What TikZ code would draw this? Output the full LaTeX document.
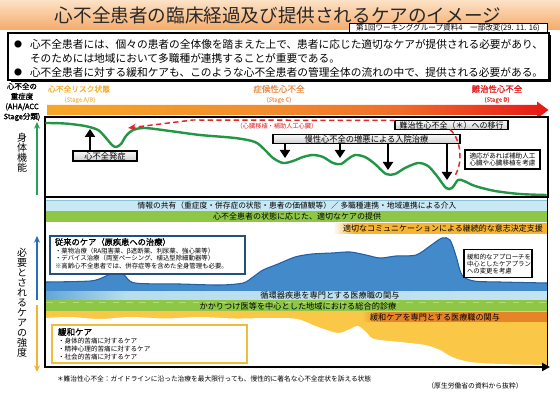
\documentclass[tikz,border=0pt]{standalone}
\usepackage{fontspec}
\setmainfont{Noto Sans CJK JP}
\newfontfamily\jpbold[FakeBold=1.2]{Noto Sans CJK JP}
\usetikzlibrary{arrows.meta}
\newcommand\fz[2]{\fontsize{#1}{#2}\selectfont}
\definecolor{titletop}{RGB}{252,226,198}
\definecolor{titlebot}{RGB}{245,170,105}
\definecolor{titletext}{RGB}{40,40,40}
\definecolor{stageA}{RGB}{242,176,48}
\definecolor{stageAl}{RGB}{245,198,118}
\definecolor{stageC}{RGB}{236,145,80}
\definecolor{stageCl}{RGB}{238,165,110}
\definecolor{stageD}{RGB}{226,28,28}
\definecolor{stageDl}{RGB}{228,70,60}
\definecolor{curvegreen}{RGB}{35,150,70}
\definecolor{axisgreen}{RGB}{40,160,90}
\definecolor{redline}{RGB}{222,40,40}
\definecolor{bandblue}{RGB}{200,232,243}
\definecolor{bandblueedge}{RGB}{140,195,220}
\definecolor{bandgreen}{RGB}{142,198,70}
\definecolor{lightgreen}{RGB}{178,220,120}
\definecolor{careblue}{RGB}{66,138,202}
\definecolor{careblueedge}{RGB}{35,95,165}
\definecolor{boxblue}{RGB}{35,80,130}
\definecolor{palyellow}{RGB}{250,200,70}
\definecolor{palbox}{RGB}{236,190,60}
\definecolor{arrowblue}{RGB}{40,110,190}
\definecolor{arrowyellow}{RGB}{240,180,50}
\pgfdeclarehorizontalshading{stagebar}{100bp}{rgb(0bp)=(0.965,0.655,0.157); rgb(25bp)=(0.965,0.655,0.157); rgb(47bp)=(0.949,0.549,0.176); rgb(60bp)=(0.941,0.431,0.157); rgb(69bp)=(0.92,0.22,0.12); rgb(75bp)=(0.91,0.086,0.086); rgb(100bp)=(0.91,0.086,0.086)}
\pgfdeclarehorizontalshading{orangefade}{100bp}{rgb(0bp)=(1,1,1); rgb(25bp)=(1,1,1); rgb(30bp)=(0.965,0.706,0.196); rgb(75bp)=(0.965,0.706,0.196); rgb(100bp)=(0.965,0.706,0.196)}
\pgfdeclarehorizontalshading{palfade}{100bp}{rgb(0bp)=(0.98,0.784,0.275); rgb(25bp)=(0.98,0.784,0.275); rgb(30bp)=(0.91,0.518,0.157); rgb(75bp)=(0.91,0.518,0.157); rgb(100bp)=(0.91,0.518,0.157)}
\pgfdeclarehorizontalshading{bluefade}{100bp}{rgb(0bp)=(0.39,0.65,0.85); rgb(25bp)=(0.39,0.65,0.85); rgb(33bp)=(0.72,0.87,0.93); rgb(75bp)=(0.76,0.89,0.95); rgb(100bp)=(0.76,0.89,0.95)}
\tikzset{
  graybox/.style={draw=black, line width=0.8pt, top color=gray!5, bottom color=gray!38},
  bigarrow/.style={draw=black, line width=2.2pt, -{Triangle[width=7.5pt,length=6pt]}},
  reddash/.style={draw=redline, line width=1.1pt, dash pattern=on 4pt off 2.5pt},
  whitebox/.style={draw=black, line width=0.8pt, fill=white},
  frameline/.style={draw=black, line width=1.3pt},
}
\begin{document}
\begin{tikzpicture}[x=0.75pt,y=-0.75pt, every node/.style={inner sep=0pt, outer sep=0pt}]
\useasboundingbox (0,0) rectangle (560,417);
\fill[white] (0,0) rectangle (560,417);

% ---------- title ----------
\shade[top color=titletop, bottom color=titlebot] (0,0) rectangle (560,30);
\node[text=titletext, font=\fz{13.95pt}{15pt}] (title) at (278,15) {心不全患者の臨床経過及び提供されるケアのイメージ};
\node[draw=black, line width=0.6pt, fill=white, minimum width=148.5pt, minimum height=7pt, font=\fz{5.7pt}{6pt}] (ref) at (448,28.5) {第1回ワーキンググループ資料4　一部改変(29. 11. 16)};

% ---------- bullet box ----------
\fill[black] (10.5,35.5) rectangle (551,82.5);
\node[draw=black, line width=1pt, fill=white, minimum width=405.75pt, minimum height=35.25pt] (bulletbox) at (278.5,56.5) {};
\node[font=\fz{6pt}{6pt}] (bul1) at (18,44.5) {●};
\node[anchor=west, font=\fz{8.03pt}{9pt}] (line1) at (30,44.5) {心不全患者には、個々の患者の全体像を踏まえた上で、患者に応じた適切なケアが提供される必要があり、};
\node[anchor=west, font=\fz{8.03pt}{9pt}] (line2) at (30,58) {そのためには地域において多職種が連携することが重要である。};
\node[font=\fz{6pt}{6pt}] (bul2) at (18,72) {●};
\node[anchor=west, font=\fz{8.03pt}{9pt}] (line3) at (30,72) {心不全患者に対する緩和ケアも、このような心不全患者の管理全体の流れの中で、提供される必要がある。};

% ---------- stage labels ----------
\node[align=center, font=\jpbold\fz{5.6pt}{7.5pt}] (sev) at (22,102) {心不全の\\重症度\\(AHA/ACC\\Stage分類)};
\node[text=stageA, font=\jpbold\fz{5.8pt}{6pt}] (stA) at (79,89) {心不全リスク状態};
\node[text=stageAl, font=\jpbold\fz{4.5pt}{5pt}] (stAs) at (80,100) {(Stage A/B)};
\node[text=stageC, font=\jpbold\fz{6.4pt}{7pt}] (stC) at (279,89) {症候性心不全};
\node[text=stageCl, font=\jpbold\fz{4.5pt}{5pt}] (stCs) at (279,100) {(Stage C)};
\node[text=stageD, font=\jpbold\fz{6.3pt}{7pt}] (stD) at (497,89) {難治性心不全};
\node[text=stageDl, font=\jpbold\fz{4.5pt}{5pt}] (stDs) at (497,100) {(Stage D)};
\shade[shading=stagebar] (47,105) -- (537,105) -- (537,101.5) -- (548.5,110) -- (537,118.5) -- (537,115) -- (47,115) -- cycle;

% ---------- physical function section ----------
\node[draw=black, line width=1.2pt, fill=white, minimum width=377.25pt, minimum height=60pt] (phys) at (296.5,157) {};
\node[align=center, font=\fz{7.5pt}{7.5pt}] (physlabel) at (22,153) {身\\体\\機\\能};
\coordinate (g1) at (37,195);
\coordinate (g2) at (37,122);
\draw[axisgreen, line width=0.9pt, -{Stealth[length=5pt,width=4.5pt]}] (g1) -- (g2);

\draw[curvegreen, line width=1.8pt, line cap=round] plot[smooth, tension=0.5] coordinates {(46,123) (65,123.5) (85,126) (98,130) (106,138) (112,145) (116,147) (121,144) (126,136) (133,130) (145,128) (170,131) (200,135) (235,138) (255,142) (265,150) (273,158) (283,163) (293,161) (303,157) (313,155) (323,157) (333,163) (341,164) (348,159) (355,155) (365,157) (375,164) (386,174) (395,174) (405,168) (418,163) (428,166) (437,176) (446,188) (452,188) (458,180) (464,181) (475,186) (495,191) (520,194) (546,195)};

\node[graybox, minimum width=140.25pt, minimum height=6.75pt, font=\fz{6.2pt}{7pt}] (chronic) at (366.5,139.25) {慢性心不全の増悪による入院治療};
\node[graybox, minimum width=84.75pt, minimum height=6.75pt, font=\fz{6pt}{7pt}] (nanchi) at (451.5,125) {難治性心不全（＊）への移行};
\node[graybox, minimum width=48pt, minimum height=7.5pt, font=\fz{6.2pt}{7pt}] (onset) at (105,156) {心不全発症};
\node[whitebox, minimum width=56.25pt, minimum height=14.25pt, align=left, font=\fz{4.95pt}{5.6pt}] (vad) at (502.5,159.5) {適応があれば補助人工\\心臓や心臓移植を考慮};

\coordinate (tipO) at (90,129);
\coordinate (tipA) at (285,158);
\coordinate (tipB) at (340,158);
\coordinate (tipC) at (388,170);
\coordinate (tipD) at (447,180);
\draw[bigarrow] (onset.north -| tipO) -- (tipO);
\draw[bigarrow] (chronic.south -| tipA) -- (tipA);
\draw[bigarrow] (chronic.south -| tipB) -- (tipB);
\draw[bigarrow] (chronic.south -| tipC) -- (tipC);
\draw[bigarrow] (chronic.south -| tipD) -- (tipD);

\coordinate (redbend) at (193,120);
\coordinate (redtip) at (128,128);
\draw[reddash, -{Stealth[length=6pt,width=5pt]}] (nanchi.north west) -- (redbend) -- (redtip);
\node[text=stageD, font=\fz{4.65pt}{5pt}] (transplant) at (277,126) {（心臓移植・補助人工心臓）};
\coordinate (rc1) at (450,0);
\coordinate (rc2) at (454,177);
\draw[reddash] (nanchi.south -| rc1) .. controls (462,140) and (463,165) .. (rc2);

% ---------- care section ----------
\fill[bandblue] (46,200) rectangle (547,211);
\draw[bandblueedge, line width=0.4pt] (46,200) -- (547,200) (46,211) -- (547,211);
\node[font=\fz{5.8pt}{6pt}] (info) at (297,205.5) {情報の共有（重症度・併存症の状態・患者の価値観等）／ 多職種連携・地域連携による介入};
\fill[bandgreen] (46,211) rectangle (547,222);
\node[font=\fz{6pt}{6pt}] (appro) at (297,216.5) {心不全患者の状態に応じた、適切なケアの提供};
\shade[shading=orangefade] (333,223) rectangle (547,233);
\node[font=\fz{6pt}{6pt}] (comm) at (443,228) {適切なコミュニケーションによる継続的な意志決定支援};

\fill[careblue] (46,291) -- plot[smooth, tension=0.5] coordinates {(46,282) (90,281) (104,277) (114,272) (124,275) (135,283) (180,284) (220,285) (243,283) (253,277) (263,270) (278,264) (295,257) (312,254) (332,253) (350,252) (366,255) (380,258) (396,256) (416,255) (430,246) (442,238) (450,240) (456,256) (462,275) (474,281) (500,282) (547,283)} -- (547,291) -- cycle;
\draw[careblueedge, line width=0.8pt] plot[smooth, tension=0.5] coordinates {(46,282) (90,281) (104,277) (114,272) (124,275) (135,283) (180,284) (220,285) (243,283) (253,277) (263,270) (278,264) (295,257) (312,254) (332,253) (350,252) (366,255) (380,258) (396,256) (416,255) (430,246) (442,238) (450,240) (456,256) (462,275) (474,281) (500,282) (547,283)};

\shade[shading=bluefade] (46,291) rectangle (547,300);
\node[font=\fz{6.15pt}{6.5pt}] (cardio) at (330,295.5) {循環器疾患を専門とする医療職の関与};
\fill[palyellow] (46,311) rectangle (547,366);
\fill[white] plot[smooth, tension=0.5] coordinates {(46,318) (70,317) (100,319) (130,317) (165,318.5) (200,317) (235,318.5) (270,318) (297,319) (318,327) (338,333) (350,329) (358,326) (366,332) (374,339) (400,342) (425,345) (440,350) (452,357) (470,362) (500,364) (547,365)} -- (547,366) -- (46,366) -- cycle;
\fill[bandgreen] (46,300) rectangle (547,311);
\draw[lightgreen, line width=1.2pt, dash pattern=on 5pt off 5pt] (46,302.5) -- (547,302.5);
\node[font=\fz{6.15pt}{6.5pt}] (gp) at (298,306) {かかりつけ医等を中心とした地域における総合的診療};
\shade[shading=palfade] (362,312) rectangle (547,321.5);
\node[font=\fz{6.1pt}{6.5pt}] (palpro) at (435,317) {緩和ケアを専門とする医療職の関与};

\node[draw=boxblue, line width=1.1pt, fill=white, minimum width=146.25pt, minimum height=28.5pt] (conv) at (147.5,255) {};
\node[anchor=west, font=\jpbold\fz{6.2pt}{7pt}] (conv1) at (55,242) {従来のケア（原疾患への治療）};
\node[anchor=west, font=\fz{4.8pt}{5pt}] (conv2) at (55,251) {・薬物治療（RA阻害薬、β遮断薬、利尿薬、強心薬等）};
\node[anchor=west, font=\fz{4.8pt}{5pt}] (conv3) at (55,258.5) {・デバイス治療（両室ペーシング、植込型除細動器等）};
\node[anchor=west, font=\fz{4.8pt}{5pt}] (conv4) at (55,266.5) {※高齢心不全患者では、併存症等を含めた全身管理も必要。};

\node[whitebox, minimum width=51pt, minimum height=21pt] (apprbox) at (498,263.5) {};
\node[align=left, font=\fz{4.8pt}{5.25pt}] (apprtext) at (499,264) {緩和的なアプローチを\\中心としたケアプラン\\への変更を考慮};

\node[draw=palbox, line width=1.1pt, fill=white, minimum width=146.25pt, minimum height=28.5pt] (pal) at (149.5,344) {};
\node[anchor=west, font=\jpbold\fz{6.4pt}{7pt}] (pal1) at (58,332) {緩和ケア};
\node[anchor=west, font=\fz{4.95pt}{5.5pt}] (pal2) at (58,341) {・身体的苦痛に対するケア};
\node[anchor=west, font=\fz{4.95pt}{5.5pt}] (pal3) at (58,349) {・精神心理的苦痛に対するケア};
\node[anchor=west, font=\fz{4.95pt}{5.5pt}] (pal4) at (58,357) {・社会的苦痛に対するケア};

% frame of care section
\draw[frameline] (45,197.5) -- (45,367.5);
\draw[frameline] (547.5,197.5) -- (547.5,367);
\draw[line width=1.5pt, -{Triangle[length=6pt,width=6pt]}] (44.4,367) -- (550,367);

\node[align=center, font=\fz{7.5pt}{7.5pt}] (carelabel) at (22,303) {必\\要\\と\\さ\\れ\\る\\ケ\\ア\\の\\強\\度};
\coordinate (ba1) at (37,300);
\coordinate (ba2) at (37,236);
\coordinate (ya1) at (37,305);
\coordinate (ya2) at (37,372);
\draw[arrowblue, line width=0.9pt, -{Stealth[length=5pt,width=4.5pt]}] (ba1) -- (ba2);
\draw[arrowyellow, line width=0.9pt, -{Stealth[length=5pt,width=4.5pt]}] (ya1) -- (ya2);

% ---------- notes ----------
\node[anchor=west, font=\fz{5.03pt}{5.5pt}] (note) at (57,379) {＊難治性心不全：ガイドラインに沿った治療を最大限行っても、慢性的に著名な心不全症状を訴える状態};
\node[font=\fz{5.1pt}{5.5pt}] (src) at (475,386) {（厚生労働省の資料から抜粋）};
\end{tikzpicture}
\end{document}
